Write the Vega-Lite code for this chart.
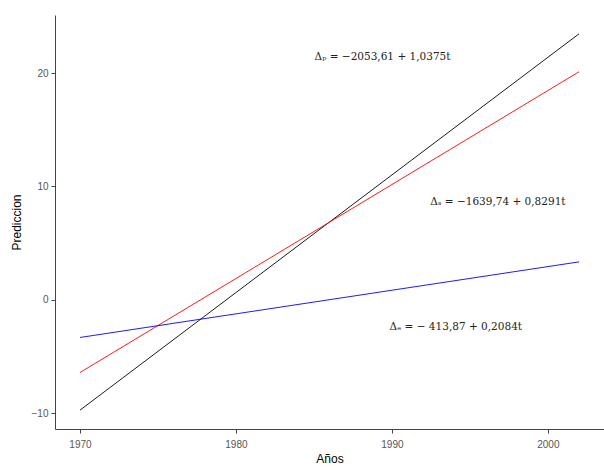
{
  "$schema": "https://vega.github.io/schema/vega-lite/v6.json",
  "width": 549,
  "height": 414,
  "autosize": {"type": "none"},
  "padding": {"left": 55, "top": 15, "right": 0, "bottom": 41},
  "background": "white",
  "config": {"view": {"stroke": null}},
  "datasets": {
    "lines": [
      {"serie": "p", "anio": 1970, "pred": -9.735},
      {"serie": "p", "anio": 2002, "pred": 23.465},
      {"serie": "s", "anio": 1970, "pred": -6.413},
      {"serie": "s", "anio": 2002, "pred": 20.118},
      {"serie": "e", "anio": 1970, "pred": -3.322},
      {"serie": "e", "anio": 2002, "pred": 3.347}
    ],
    "labels": [
      {"anio": 1989.4, "pred": 21.4, "txt": "Δₚ = −2053,61 + 1,0375t"},
      {"anio": 1996.8, "pred": 8.65, "txt": "Δₛ = −1639,74 + 0,8291t"},
      {"anio": 1994.1, "pred": -2.4, "txt": "Δₑ = − 413,87 + 0,2084t"}
    ]
  },
  "layer": [
    {
      "data": {"name": "lines"},
      "mark": {"type": "line", "strokeWidth": 0.9},
      "encoding": {
        "x": {
          "field": "anio", "type": "quantitative",
          "scale": {"domain": [1968.4, 2003.6], "nice": false, "zero": false},
          "axis": {
            "title": "Años", "values": [1970, 1980, 1990, 2000], "format": "d",
            "grid": false, "domainColor": "#444", "tickColor": "#444", "tickSize": 4,
            "labelColor": "#555", "labelFontSize": 10, "labelFont": "Liberation Sans",
            "titleFont": "Liberation Sans", "titleFontSize": 12, "titleFontWeight": "normal",
            "titleColor": "#000", "titlePadding": 4, "labelPadding": 6
          }
        },
        "y": {
          "field": "pred", "type": "quantitative",
          "scale": {"domain": [-11.395, 25.125], "nice": false, "zero": false},
          "axis": {
            "title": "Prediccion", "values": [-10, 0, 10, 20],
            "grid": false, "domainColor": "#444", "tickColor": "#444", "tickSize": 4,
            "labelColor": "#555", "labelFontSize": 10, "labelFont": "Liberation Sans",
            "titleFont": "Liberation Sans", "titleFontSize": 12, "titleFontWeight": "normal",
            "titleColor": "#000", "titlePadding": 8, "labelPadding": 3
          }
        },
        "color": {
          "field": "serie", "type": "nominal",
          "scale": {"domain": ["p", "s", "e"], "range": ["#000000", "#ff0000", "#0000ff"]},
          "legend": null
        },
        "detail": {"field": "serie"}
      }
    },
    {
      "data": {"name": "labels"},
      "mark": {"type": "text", "font": "DejaVu Serif", "fontSize": 10.5, "color": "#222", "align": "center", "baseline": "middle"},
      "encoding": {
        "x": {"field": "anio", "type": "quantitative"},
        "y": {"field": "pred", "type": "quantitative"},
        "text": {"field": "txt"}
      }
    }
  ]
}
